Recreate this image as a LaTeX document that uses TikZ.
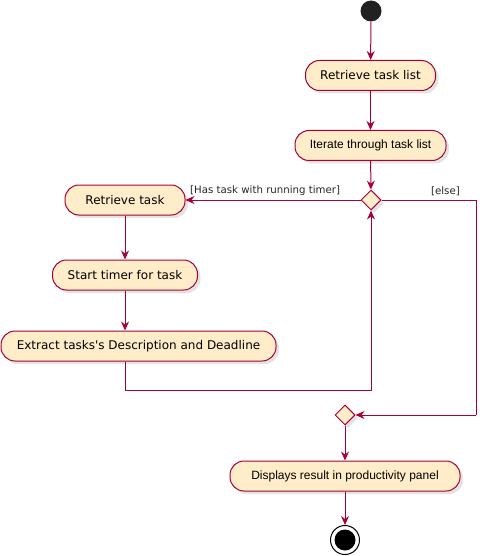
\documentclass[tikz,border=0pt]{standalone}
\usepackage{fontspec}
\setmainfont{DejaVu Sans}[Ligatures=TeXOff]
\newfontfamily\estrecha{Liberation Sans}
\usetikzlibrary{shapes,arrows.meta,shadows}
\usepackage{xcolor}
\definecolor{relleno}{RGB}{254,237,200}
\definecolor{borde}{RGB}{168,0,54}

\tikzset{
	accion/.style={draw=borde, fill=relleno, line width=1pt, rounded corners=14pt, minimum height=30pt,
		inner sep=0pt, font=\fontsize{12}{14}\selectfont,
		drop shadow={shadow xshift=3pt, shadow yshift=-3pt, fill=black!22, draw=none}},
	accionb/.style={accion, font=\estrecha\fontsize{12}{14}\selectfont},
	decision/.style={diamond, draw=borde, fill=relleno, line width=1pt, minimum width=20pt, minimum height=20pt,
		inner sep=0pt, drop shadow={shadow xshift=3pt, shadow yshift=-3pt, fill=black!22, draw=none}},
	flecha/.style={draw=borde, line width=1pt, -{Stealth[length=9pt,width=8pt,inset=3pt]}},
	linea/.style={draw=borde, line width=1pt},
	guarda/.style={font=\fontsize{10.2}{12}\selectfont, text=black!85, inner sep=0pt}
}

\begin{document}
\begin{tikzpicture}[x=1pt,y=-1pt]
	\useasboundingbox (0,0) rectangle (486,556);
	% inicio y fin
	\node[circle, fill=black!87, minimum size=21pt, inner sep=0pt] (inicio) at (371,11) {};
	\node[circle, draw=black, fill=white, line width=1pt, minimum size=29pt, inner sep=0pt] (fin) at (345,540) {};
	\node[circle, fill=black, minimum size=21pt, inner sep=0pt] (finc) at (345,540) {};
	% acciones
	\node[accion, minimum width=130pt] (lista) at (370.5,75.5) {Retrieve task list};
	\node[accionb, minimum width=151pt] (iterar) at (370.5,145.5) {Iterate through task list};
	\node[decision] (dec1) at (371,200) {};
	\node[accion, minimum width=120pt] (tarea) at (125,200) {Retrieve task};
	\node[accion, minimum width=145pt] (timer) at (125,275) {Start timer for task};
	\node[accion, minimum width=275pt] (extraer) at (138.5,346) {Extract tasks's Description and Deadline};
	\node[decision] (dec2) at (345,415) {};
	\node[accionb, minimum width=230pt] (mostrar) at (345,476) {Displays result in productivity panel};
	% puntos de paso
	\coordinate (vuelta) at (371,390);
	\coordinate (esquina) at (476,415);
	% conectores
	\draw[flecha] (inicio) -- (lista);
	\draw[flecha] (lista) -- (iterar);
	\draw[flecha] (iterar) -- (dec1);
	\draw[flecha] (dec1.west) -- (tarea.east);
	\node[guarda, anchor=west] (si) at (190,191) {[Has task with running timer]};
	\draw[linea] (dec1.east) -| (esquina);
	\draw[flecha] (esquina) -- (dec2.east);
	\node[guarda, anchor=east] (no) at (460,191) {[else]};
	\draw[flecha] (tarea) -- (timer);
	\draw[flecha] (timer) -- (timer |- extraer.north);
	\draw[flecha] (timer |- extraer.south) |- (vuelta) -- (dec1.south);
	\draw[flecha] (dec2) -- (mostrar);
	\draw[flecha] (mostrar) -- (fin);
\end{tikzpicture}
\end{document}
